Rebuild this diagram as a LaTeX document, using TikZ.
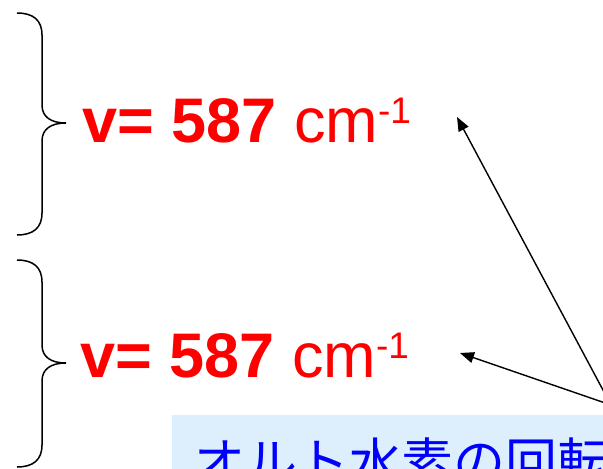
\documentclass[tikz,border=0pt]{standalone}
\usepackage{fontspec}
\setmainfont{Liberation Sans}
\newfontfamily\jpfont{Noto Sans CJK JP}
\usepackage{xcolor}
\usetikzlibrary{positioning,arrows.meta}
\definecolor{cVal}{HTML}{FF0000}
\definecolor{cNote}{HTML}{DDEEFC}
\definecolor{cNoteT}{HTML}{0000FF}

\begin{document}
\begin{tikzpicture}[
  x=1pt,y=-1pt,
  >={Triangle[length=14pt,width=11pt]},
  brc/.style={draw=black,line width=1.5pt},
  val/.style={anchor=base west,inner sep=0pt,text=cVal,font=\fontsize{63}{63}\selectfont},
  flow/.style={->,line width=1.4pt,black},
]
\useasboundingbox (0,0) rectangle (603,469);
\clip (0,0) rectangle (603,469);

% ---------- BRACES ----------
\draw[brc] (17,13) .. controls (33,13) and (42,20) .. (42,35) -- (42,105)
  .. controls (42,117) and (51,123) .. (66,123) .. controls (51,123) and (42,129) .. (42,141)
  -- (42,213) .. controls (42,228) and (33,235) .. (17,235);
\draw[brc] (17,260) .. controls (33,260) and (42,267) .. (42,282) -- (42,345)
  .. controls (42,357) and (51,363) .. (66,363) .. controls (51,363) and (42,369) .. (42,381)
  -- (42,445) .. controls (42,460) and (33,467) .. (17,467);

% ---------- VALUES ----------
\node[val] (v1) at (82,142) {\textbf{v= 587} cm\raisebox{19pt}{\fontsize{37}{37}\selectfont -1}};
\node[val] (v2) at (80,377) {\textbf{v= 587} cm\raisebox{19pt}{\fontsize{37}{37}\selectfont -1}};

% ---------- NOTE BOX ----------
\node[fill=cNote,anchor=north west,minimum width=460,minimum height=90,inner sep=0pt] (notebg) at (172,415) {};
\node[anchor=base west,inner sep=0pt,text=cNoteT,font=\jpfont\fontsize{52}{52}\selectfont] (note) at (193,481) {オルト水素の回転};

% ---------- ARROWS ----------
\coordinate (src) at (611,405);
\coordinate (t1) at (457,117);
\coordinate (t2) at (460,353);
\draw[flow] (src) -- (t1);
\draw[flow] (src) -- (t2);

\end{tikzpicture}
\end{document}
